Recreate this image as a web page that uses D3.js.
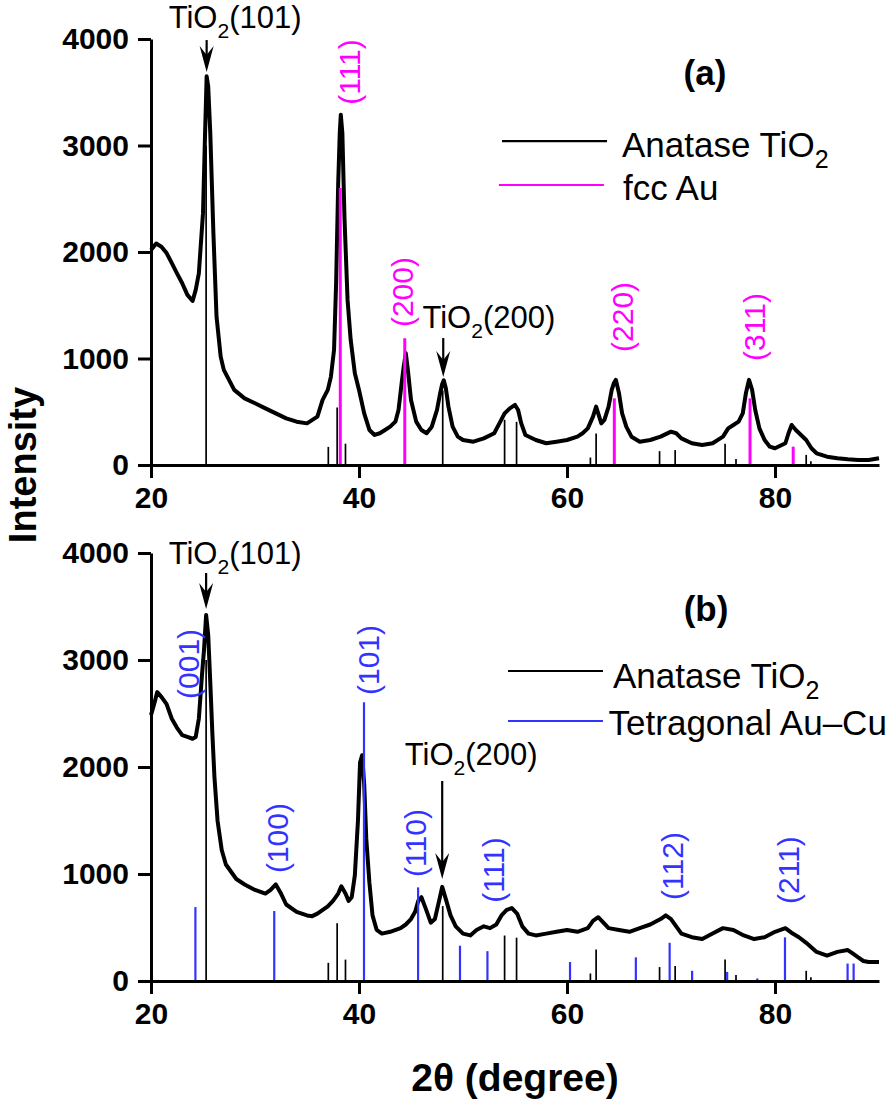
<!DOCTYPE html>
<html lang="en">
<head>
<meta charset="utf-8">
<title>XRD patterns</title>
<script src="https://cdn.jsdelivr.net/npm/d3@7/dist/d3.min.js"></script>
<style>
  body { margin: 0; background: #fff; }
  text { font-family: "Liberation Sans", Arial, sans-serif; }
</style>
</head>
<body>
<script>
// measured patterns, [2theta, intensity]
var patternA = [[20,2020],[20.5,2080],[21,2050],[21.5,1990],[22,1895],[22.5,1800],[23,1707],[23.5,1597],[24,1540],[24.3,1644],[24.6,1800],
  [25,2365],[25.2,3116],[25.35,3650],[25.5,3555],[25.7,3116],[26,2177],[26.3,1394],[26.7,1018],[27,893],[27.5,799],[28,705],[29,626],
  [30,580],[31,532],[32,485],[33,438],[34,407],[35,391],[36,454],[36.5,611],[37,705],[37.3,830],[37.6,1081],[37.8,1707],[38,2646],
  [38.15,3116],[38.25,3289],[38.4,3116],[38.6,2333],[38.9,1550],[39.2,1175],[39.6,861],[40,705],[40.5,485],[41,329],[41.5,282],[42,298],
  [42.5,329],[43,360],[43.5,407],[43.8,517],[44.1,767],[44.3,924],[44.5,1049],[44.7,893],[45,611],[45.5,407],[46,329],[46.5,298],[47,360],
  [47.5,517],[47.8,673],[48,760],[48.15,795],[48.35,720],[48.6,548],[49,360],[49.5,266],[50,235],[51,219],[52,250],[53,298],[53.5,391],
  [54,485],[54.5,532],[55,564],[55.3,517],[55.6,391],[56,282],[57,235],[58,204],[59,219],[60,235],[61,266],[61.5,298],[62,344],[62.5,454],
  [62.8,548],[63,485],[63.3,391],[63.6,423],[64,548],[64.3,705],[64.5,767],[64.7,799],[65,673],[65.3,485],[65.7,360],[66.2,266],[67,219],
  [68,235],[69,266],[70,313],[70.5,298],[71,250],[72,204],[73,188],[74,204],[75,266],[75.5,344],[76,376],[76.5,407],[76.9,485],[77.2,673],
  [77.5,799],[77.8,705],[78.1,517],[78.5,344],[79,235],[79.5,172],[80,157],[81,204],[81.3,298],[81.6,376],[82,329],[82.5,282],[83,235],
  [83.5,157],[84,110],[85,78],[86,63],[87,53],[88,47],[89,47],[90,63]];

var patternB = [[20,2485],[20.3,2587],[20.6,2700],[21,2655],[21.5,2587],[22,2451],[22.5,2366],[23,2298],[23.5,2281],[24,2264],[24.3,2281],
  [24.6,2451],[24.9,2859],[25.1,3098],[25.3,3420],[25.5,3234],[25.7,2791],[25.9,2315],[26.1,1906],[26.4,1498],[26.8,1225],[27.2,1089],
  [27.7,1021],[28.2,953],[29,902],[30,851],[31,817],[31.5,851],[32,902],[32.5,817],[33,715],[34,647],[35,613],[35.5,606],[36,630],[37,698],
  [37.5,749],[38,817],[38.3,885],[38.7,817],[39,749],[39.3,783],[39.6,987],[39.9,1498],[40.1,2042],[40.3,2110],[40.5,1838],[40.7,1328],
  [41,919],[41.3,613],[41.7,477],[42.2,443],[43,460],[44,494],[44.5,528],[45,579],[45.4,647],[45.7,749],[46,783],[46.4,681],[46.9,545],
  [47.3,579],[47.7,749],[48,880],[48.4,749],[48.8,613],[49.3,511],[50,443],[50.7,426],[51.3,477],[52,511],[52.6,494],[53.2,528],[53.7,613],
  [54.2,664],[54.7,681],[55.2,630],[55.7,511],[56.3,443],[57,426],[58,443],[59,460],[60,477],[61,460],[62,494],[62.5,562],[63,596],
  [63.5,545],[64,494],[65,477],[66,460],[67,494],[68,528],[69,579],[69.5,613],[70,579],[70.5,511],[71,443],[72,409],[73,392],[74,443],
  [75,494],[76,477],[77,426],[78,392],[79,409],[80,460],[81,494],[81.7,443],[82.3,409],[83,357],[84,272],[85,238],[86,272],[87,289],
  [87.5,255],[88,221],[88.5,187],[89,177],[90,177]];

// reference sticks
var anatasePos = [25.3, 37.05, 37.9, 38.7, 48.05, 54.0, 55.15, 62.25, 62.8, 68.9, 70.4, 75.2, 76.25, 83.0, 83.45];
var anataseInt = [3000, 170, 540, 200, 700, 425, 405, 70, 295, 130, 140, 200, 57, 95, 36];
var auPos = [38.2, 44.4, 64.55, 77.6, 81.75];
var auInt = [2600, 1190, 626, 626, 172];
var auCuPos = [24.27, 31.85, 40.48, 45.68, 49.71, 52.35, 60.29, 66.62, 69.87, 72.03, 75.4, 78.3, 80.96, 86.98, 87.56];
var auCuInt = [691, 654, 2604, 875, 330, 279, 177, 221, 357, 95, 85, 24, 408, 163, 163];

var xMajor = [20, 40, 60, 80];
var xMinor = [25, 30, 35, 45, 50, 55, 65, 70, 75, 85, 90];
var yMajor = [0, 1000, 2000, 3000, 4000];
var yMinor = [500, 1500, 2500, 3500];

var auLabels = [["(111)", 39.1, 3690], ["(200)", 44.2, 1624], ["(220)", 65.3, 1390], ["(311)", 78.0, 1296]];
var auCuLabels = [["(001)", 23.6, 2963], ["(100)", 32.2, 1336], ["(101)", 40.9, 3000], ["(110)", 45.4, 1290],
                  ["(111)", 52.9, 1037], ["(112)", 70.1, 1075], ["(211)", 81.25, 1037]];

var w = 890, h = 1101;
var magenta = "#ff00ff", blue = "#3333ff";

var svg = d3.select("body").append("svg").attr("width", w).attr("height", h);

var x = d3.scaleLinear().domain([20, 90]).range([151, 879]);
var yA = d3.scaleLinear().domain([0, 4000]).range([465, 39]);
var yB = d3.scaleLinear().domain([0, 4000]).range([981, 553]);

var drawPanel = function(y, pattern, sticks, labels, labelColor) {
    var g = svg.append("g");

    // curve
    var line = d3.line().x(function(d){ return x(d[0]); }).y(function(d){ return y(d[1]); });
    g.append("path").datum(pattern)
        .attr("d", line)
        .attr("fill", "none")
        .attr("stroke", "#000")
        .attr("stroke-width", 4)
        .attr("stroke-linejoin", "round");

    // sticks
    sticks.forEach(function(s){
        g.selectAll(null)
            .data(s.pos)
            .enter()
            .append("line")
            .attr("x1", function(d){ return x(d); })
            .attr("x2", function(d){ return x(d); })
            .attr("y1", y(0))
            .attr("y2", function(d, i){ return y(s.val[i]); })
            .attr("stroke", s.color)
            .attr("stroke-width", s.width);
    });

    // axes
    var ax = g.append("g").attr("transform", "translate(0," + y(0) + ")");
    ax.call(d3.axisBottom(x).tickValues(xMinor).tickSize(7).tickFormat("").tickSizeOuter(0));
    ax.call(d3.axisBottom(x).tickValues(xMajor).tickSize(13).tickPadding(9).tickSizeOuter(0).tickFormat(d3.format("d")));
    var ay = g.append("g").attr("transform", "translate(151,0)");
    ay.call(d3.axisLeft(y).tickValues(yMinor).tickSize(7).tickFormat("").tickSizeOuter(0));
    ay.call(d3.axisLeft(y).tickValues(yMajor).tickSize(13).tickPadding(9).tickSizeOuter(0).tickFormat(d3.format("d")));
    g.selectAll(".domain, .tick line").attr("stroke", "#000").attr("stroke-width", 3);
    g.selectAll(".tick text").attr("font-size", 30).attr("font-weight", "bold")
        .attr("font-family", "'Liberation Sans', Arial, sans-serif").attr("fill", "#000");

    // hkl labels
    g.selectAll(null)
        .data(labels)
        .enter()
        .append("text")
        .attr("transform", function(d){ return "translate(" + x(d[1]) + "," + y(d[2]) + ") rotate(-90)"; })
        .attr("text-anchor", "middle")
        .attr("dominant-baseline", "central")
        .attr("font-size", 30)
        .attr("fill", labelColor)
        .text(function(d){ return d[0]; });
    return g;
};

var tiLabel = function(g, x0, y0, hkl, size) {
    var t = g.append("text").attr("x", x0).attr("y", y0).attr("font-size", size).attr("fill", "#000");
    t.append("tspan").text("TiO");
    t.append("tspan").attr("font-size", size * 0.68).attr("dy", size * 0.33).text("2");
    t.append("tspan").attr("dy", -size * 0.33).text(hkl);
};

var arrow = function(g, px, yTop, yTip) {
    g.append("line").attr("x1", px).attr("x2", px).attr("y1", yTop).attr("y2", yTip - 10)
        .attr("stroke", "#000").attr("stroke-width", 2.2);
    g.append("path")
        .attr("d", "M" + px + "," + yTip + "L" + (px - 7) + "," + (yTip - 26) + "L" + px + "," + (yTip - 17) +
              "L" + (px + 7) + "," + (yTip - 26) + "Z")
        .attr("fill", "#000");
};

var legend = function(g, y, items) {
    items.forEach(function(it){
        g.append("line").attr("x1", x(it.x1)).attr("x2", x(it.x2)).attr("y1", y(it.ly)).attr("y2", y(it.ly))
            .attr("stroke", it.color).attr("stroke-width", 2.2);
        var t = g.append("text").attr("x", x(it.tx)).attr("y", y(it.ty)).attr("font-size", 35).attr("fill", "#000");
        t.append("tspan").text(it.text);
        if (it.sub) {
            t.append("tspan").attr("font-size", 25).attr("dy", 11).text(it.sub);
        }
    });
};

// panel (a)
var gA = drawPanel(yA, patternA,
    [{pos: anatasePos, val: anataseInt, color: "#000", width: 1.7},
     {pos: auPos, val: auInt, color: magenta, width: 3}],
    auLabels, magenta);
tiLabel(gA, x(21.7), yA(4103), "(101)", 31);
arrow(gA, x(25.35), yA(3990), yA(3690));
tiLabel(gA, x(46.1), yA(1286), "(200)", 31);
arrow(gA, x(48.1), yA(1192), yA(826));
gA.append("text").attr("x", x(73.27)).attr("y", yA(3681)).attr("text-anchor", "middle")
    .attr("dominant-baseline", "central").attr("font-size", 35).attr("font-weight", "bold").text("(a)");
legend(gA, yA, [
    {x1: 53.75, x2: 63.85, ly: 3042, tx: 65.29, ty: 2892, color: "#000", text: "Anatase TiO", sub: "2"},
    {x1: 53.45, x2: 63.55, ly: 2629, tx: 65.39, ty: 2488, color: magenta, text: "fcc Au"}
]);

// panel (b)
var gB = drawPanel(yB, patternB,
    [{pos: anatasePos, val: anataseInt, color: "#000", width: 1.7},
     {pos: auCuPos, val: auCuInt, color: blue, width: 2.2}],
    auCuLabels, blue);
tiLabel(gB, x(21.7), yB(3897), "(101)", 31);
arrow(gB, x(25.3), yB(3813), yB(3477));
tiLabel(gB, x(44.4), yB(2019), "(200)", 31);
arrow(gB, x(48.0), yB(1869), yB(953));
gB.append("text").attr("x", x(73.37)).attr("y", yB(3477)).attr("text-anchor", "middle")
    .attr("dominant-baseline", "central").attr("font-size", 35).attr("font-weight", "bold").text("(b)");
legend(gB, yB, [
    {x1: 54.33, x2: 63.46, ly: 2897, tx: 64.42, ty: 2738, color: "#000", text: "Anatase TiO", sub: "2"},
    {x1: 54.33, x2: 63.46, ly: 2430, tx: 64.0, ty: 2299, color: blue, text: "Tetragonal Au\u2013Cu"}
]);

// axis titles
svg.append("text")
    .attr("transform", "translate(36,465) rotate(-90)")
    .attr("text-anchor", "middle")
    .attr("font-size", 38).attr("font-weight", "bold")
    .text("Intensity");
svg.append("text")
    .attr("x", 515).attr("y", 1091)
    .attr("text-anchor", "middle")
    .attr("font-size", 39).attr("font-weight", "bold")
    .text("2\u03b8 (degree)");
</script>
</body>
</html>
